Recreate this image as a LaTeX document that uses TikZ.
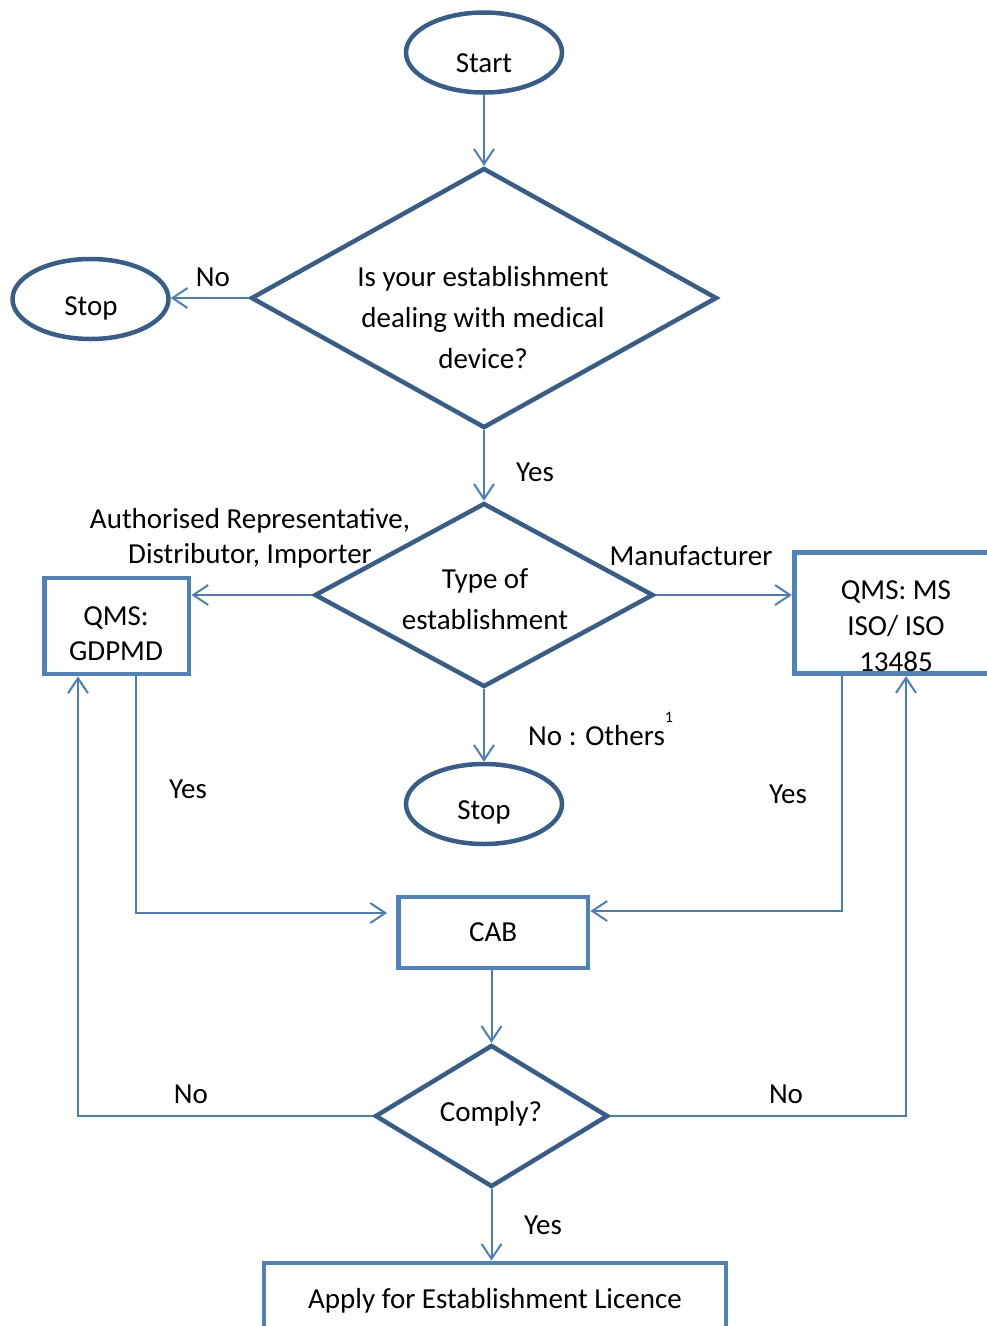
\documentclass[tikz,border=0pt]{standalone}
\usepackage{fontspec}
\setmainfont{Carlito}
\usetikzlibrary{shapes.geometric,arrows.meta,calc}
\definecolor{shapeblue}{HTML}{385D8A}
\definecolor{boxblue}{HTML}{4F81BD}
\definecolor{lineblue}{HTML}{4A7EBB}
\begin{document}
\begin{tikzpicture}[x=1pt,y=-1pt,
  every node/.style={font=\fontsize{29}{35}\selectfont, inner sep=0pt},
  term/.style={ellipse, draw=shapeblue, line width=4.5pt, minimum width=156pt, minimum height=80pt},
  decision/.style={diamond, draw=shapeblue, line width=4.5pt},
  procbox/.style={rectangle, draw=boxblue, line width=4.8pt},
  conn/.style={draw=lineblue, line width=2pt, -{Straight Barb[length=15pt,width=20pt]}},
  lbl/.style={anchor=center, align=center},
]
\useasboundingbox (0,0) rectangle (987,1326);
\clip (0,0) rectangle (987,1326);

% shapes
\node[term] (start) at (484,52.5) {};
\node[decision, minimum width=466pt, minimum height=260pt] (d1) at (484,298) {};
\node[term] (stop1) at (90.5,299) {};
\node[decision, minimum width=339pt, minimum height=184pt] (d2) at (484,595) {};
\node[procbox, minimum width=144.5pt, minimum height=96pt] (gd) at (116.75,626) {};
\node[procbox, minimum width=205.5pt, minimum height=121.5pt] (ms) at (897,613) {};
\node[term] (stop2) at (484,804) {};
\node[procbox, minimum width=189.5pt, minimum height=71pt] (cab) at (493.25,932.5) {CAB};
\node[decision, minimum width=233pt, minimum height=142pt] (d3) at (491.5,1116) {};
\node[procbox, minimum width=462pt, minimum height=76pt] (apply) at (495,1301) {Apply for Establishment Licence};

% texts inside shapes
\node[lbl] at (484,63) {Start};
\node[lbl] at (91,308) {Stop};
\node[lbl] at (484,812) {Stop};
\node[lbl, font=\fontsize{29}{41}\selectfont] at (483,318) {Is your establishment\\dealing with medical\\device?};
\node[lbl, font=\fontsize{29}{41}\selectfont] at (485,599) {Type of\\establishment};
\node[lbl] at (116,633.5) {QMS:\\GDPMD};
\node[lbl, font=\fontsize{29}{36}\selectfont] at (896,626) {QMS: MS\\ISO/ ISO\\13485};
\node[lbl] at (491,1114) {Comply?};

% connectors
\draw[conn] (start.south) -- (d1.north);
\draw[conn] (d1.west) -- (d1.west -| stop1.east);
\draw[conn] (d1.south) -- (d2.north);
\draw[conn] (d2.west) -- (d2.west -| gd.east);
\draw[conn] (d2.east) -- (d2.east -| ms.west);
\draw[conn] (d2.south) -- (stop2.north);
\draw[conn] ([xshift=19.5pt]gd.south) |- ([xshift=-9pt,yshift=19.5pt]cab.west);
\draw[conn] ([xshift=-55pt]ms.south) |- ([yshift=21.5pt]cab.east);
\draw[conn] (cab.south -| d3.north) -- (d3.north);
\draw[conn] (d3.west) -| ([xshift=-38.75pt]gd.south);
\draw[conn] (d3.east) -| ([xshift=9pt]ms.south);
\draw[conn] (d3.south) -- (d3.south |- apply.north);

% connector labels
\node[lbl] at (213,277) {No};
\node[lbl] at (535,472) {Yes};
\node[lbl] at (250,538.5) {Authorised Representative,\\Distributor, Importer};
\node[lbl] at (691,556) {Manufacturer};
\node[anchor=base west] at (528,745.5) {No : Others\raisebox{23pt}{\fontsize{16}{16}\selectfont 1}};
\node[lbl] at (188,789) {Yes};
\node[lbl] at (788,794) {Yes};
\node[lbl] at (191,1094) {No};
\node[lbl] at (786,1094) {No};
\node[lbl] at (543,1225) {Yes};
\end{tikzpicture}
\end{document}
